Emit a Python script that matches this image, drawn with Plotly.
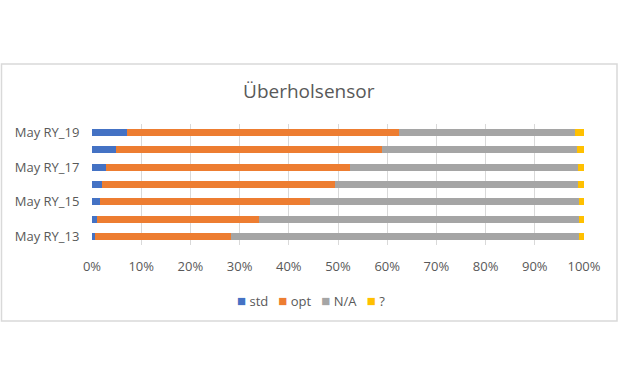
import plotly.graph_objects as go

categories = ["May RY_13", "May RY_14", "May RY_15", "May RY_16", "May RY_17", "May RY_18", "May RY_19"]
std_vals = [0.7, 1.0, 1.6, 2.1, 2.8, 4.8, 7.1]
opt_vals = [27.5, 32.9, 42.7, 47.2, 49.6, 54.1, 55.3]
na_vals = [70.7, 65.0, 54.6, 49.5, 46.3, 39.6, 35.8]
q_vals = [1.1, 1.1, 1.1, 1.2, 1.3, 1.5, 1.8]
label_cats = ["May RY_13", "May RY_15", "May RY_17", "May RY_19"]
x_ticks = list(range(0, 101, 10))
x_ticktext = [f"{v}%" for v in x_ticks]

series = [
    ("std", std_vals, "#4472C4"),
    ("opt", opt_vals, "#ED7D31"),
    ("N/A", na_vals, "#A5A5A5"),
    ("?", q_vals, "#FFC000"),
]

font_family = "Open Sans, Liberation Sans, sans-serif"
text_color = "#595959"

fig = go.Figure()
for name, vals, color in series:
    fig.add_trace(go.Bar(
        y=categories, x=vals, name=name, orientation="h", showlegend=False,
        marker=dict(color=color, line=dict(width=0)),
    ))

legend_html = "&nbsp;&nbsp;&nbsp;".join(
    f'<span style="color:{color};font-size:15px">■</span>&nbsp;{name}'
    for name, _, color in series
)

fig.update_layout(
    width=620, height=385,
    barmode="stack", barnorm="percent", bargap=0.6,
    paper_bgcolor="white", plot_bgcolor="white",
    margin=dict(l=92, r=36, t=124, b=140, autoexpand=False),
    font=dict(family=font_family, size=13, color=text_color),
    title=dict(text="Überholsensor", x=0.498, xanchor="center", y=0.764, yanchor="middle",
               yref="container", font=dict(family=font_family, size=19, color=text_color)),
    xaxis=dict(range=[0, 100], tickvals=x_ticks, ticktext=x_ticktext, showgrid=True,
               gridcolor="#D9D9D9", gridwidth=1, zeroline=False, showline=False,
               ticks="outside", ticklen=9, tickcolor="rgba(0,0,0,0)", automargin=False,
               tickfont=dict(size=13, color=text_color)),
    yaxis=dict(categoryorder="array", categoryarray=categories, tickvals=label_cats,
               ticktext=label_cats, showgrid=False, zeroline=False, showline=False,
               ticks="outside", ticklen=9, tickcolor="rgba(0,0,0,0)", automargin=False,
               tickfont=dict(size=13, color=text_color)),
    showlegend=False,
    annotations=[dict(text=legend_html, xref="paper", yref="paper",
                      x=(311 - 92) / 492, y=(245 - 300) / 121, xanchor="center", yanchor="middle",
                      showarrow=False, font=dict(size=13, color=text_color))],
    shapes=[dict(type="rect", xref="paper", yref="paper",
                 x0=(1.5 - 92) / 492, x1=(617 - 92) / 492,
                 y0=(245 - 321) / 121, y1=(245 - 64) / 121,
                 line=dict(color="#D9D9D9", width=1.5), fillcolor="rgba(0,0,0,0)", layer="below")],
)

fig.write_html("out.html", config={"displayModeBar": False},
               post_script="document.body.style.margin='0px';")
